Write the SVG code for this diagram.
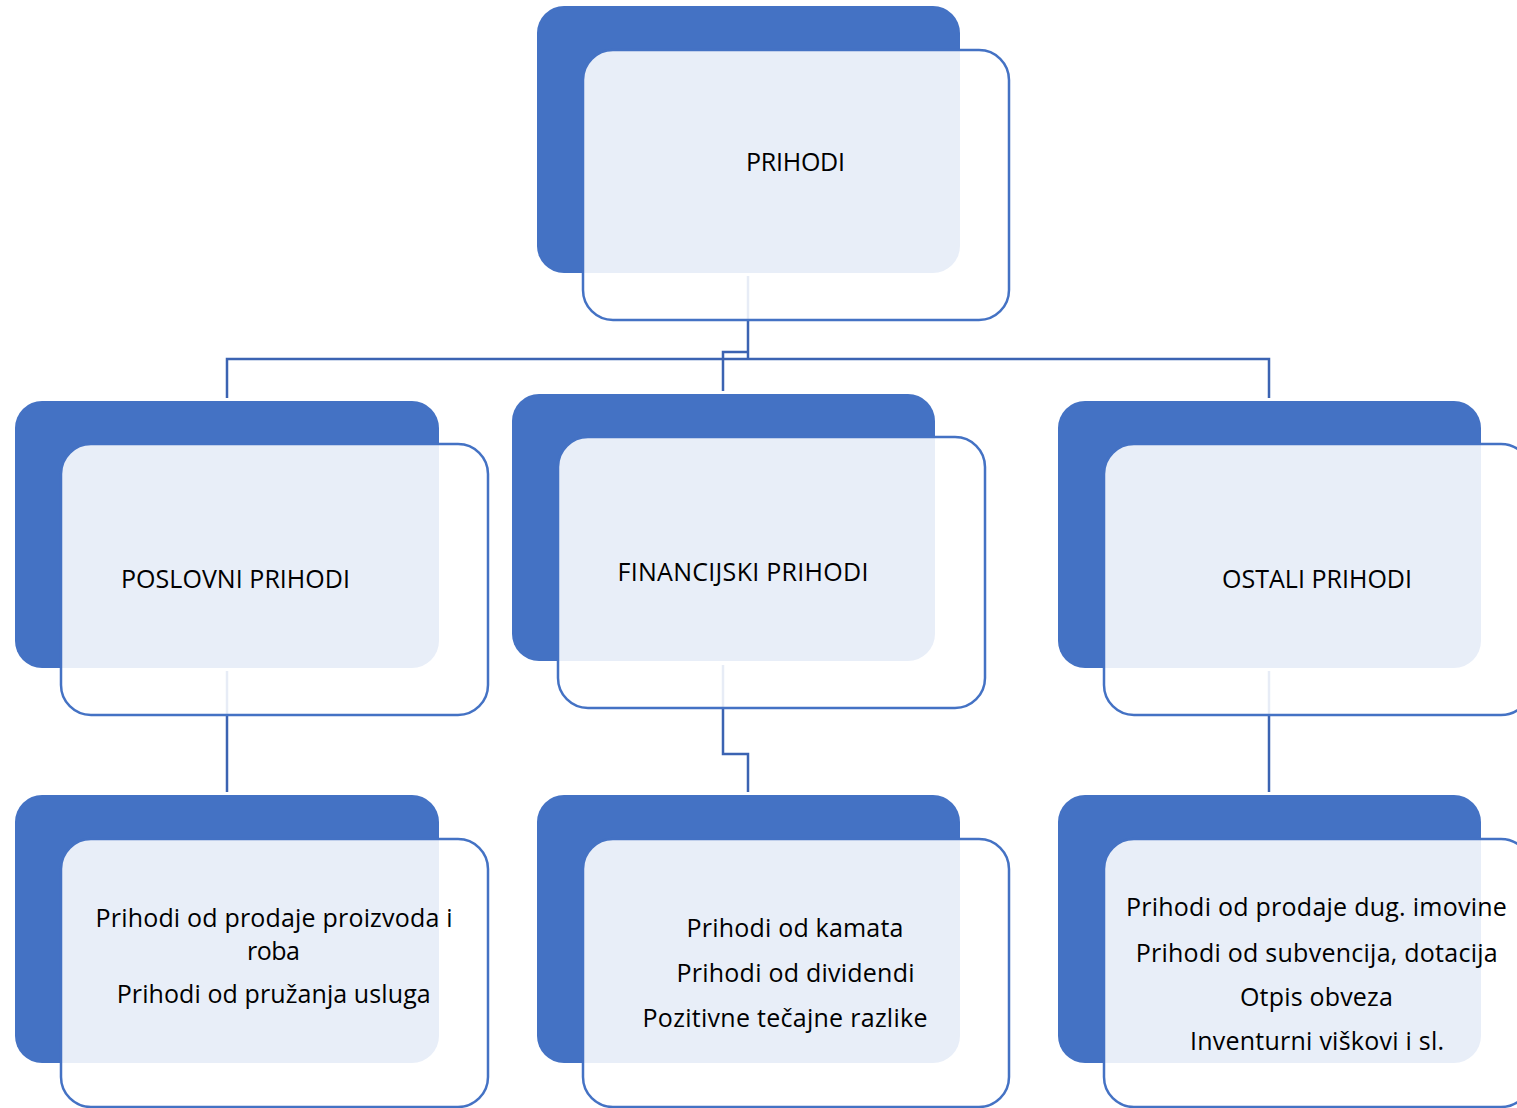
<svg xmlns="http://www.w3.org/2000/svg" width="1517" height="1108" viewBox="0 0 1517 1108">
  <style>
    .back { fill: #4472C4; }
    .front { fill: #FFFFFF; fill-opacity: 0.88; stroke: #4472C4; stroke-width: 2.5; }
    .conn { fill: none; stroke: #3B63B2; stroke-width: 2.5; stroke-linejoin: miter; }
    .lbl { font-family: "Open Sans", "Noto Sans", "DejaVu Sans", sans-serif; font-size: 25px; fill: #000000; text-anchor: middle; }
  </style>
  <rect x="0" y="0" width="1517" height="1108" fill="#FFFFFF"/>
  <g id="connectors">
    <path class="conn" d="M748,276 V359"/>
    <path class="conn" d="M227,398 V359 H1269 V398"/>
    <path class="conn" d="M748,352 H723 V391"/>
    <path class="conn" d="M227,671 V792"/>
    <path class="conn" d="M723,665 V754 H748 V792"/>
    <path class="conn" d="M1269,671 V792"/>
  </g>
  <g id="node-prihodi">
    <rect class="back" x="537" y="6" width="423" height="267" rx="27"/>
    <rect class="front" x="583" y="50" width="426" height="270" rx="30"/>
    <text class="lbl" x="795.5" y="171" textLength="99">PRIHODI</text>
  </g>
  <g id="node-poslovni">
    <rect class="back" x="15" y="401" width="424" height="267" rx="27"/>
    <rect class="front" x="61" y="444" width="427" height="271" rx="30"/>
    <text class="lbl" x="235.5" y="588" textLength="229">POSLOVNI PRIHODI</text>
  </g>
  <g id="node-financijski">
    <rect class="back" x="512" y="394" width="423" height="267" rx="27"/>
    <rect class="front" x="558" y="437" width="427" height="271" rx="30"/>
    <text class="lbl" x="743" y="581" textLength="251">FINANCIJSKI PRIHODI</text>
  </g>
  <g id="node-ostali">
    <rect class="back" x="1058" y="401" width="423" height="267" rx="27"/>
    <rect class="front" x="1104" y="444" width="427" height="271" rx="30"/>
    <text class="lbl" x="1317" y="588" textLength="190">OSTALI PRIHODI</text>
  </g>
  <g id="node-poslovni-detail">
    <rect class="back" x="15" y="795" width="424" height="268" rx="27"/>
    <rect class="front" x="61" y="839" width="427" height="268" rx="30"/>
    <text class="lbl" x="274" y="927" textLength="357">Prihodi od prodaje proizvoda i</text>
    <text class="lbl" x="273.5" y="960" textLength="53">roba</text>
    <text class="lbl" x="273.7" y="1003" textLength="314">Prihodi od pružanja usluga</text>
  </g>
  <g id="node-financijski-detail">
    <rect class="back" x="537" y="795" width="423" height="268" rx="27"/>
    <rect class="front" x="583" y="839" width="426" height="268" rx="30"/>
    <text class="lbl" x="795" y="937" textLength="217">Prihodi od kamata</text>
    <text class="lbl" x="795.5" y="982" textLength="238">Prihodi od dividendi</text>
    <text class="lbl" x="785" y="1027" textLength="285">Pozitivne tečajne razlike</text>
  </g>
  <g id="node-ostali-detail">
    <rect class="back" x="1058" y="795" width="423" height="268" rx="27"/>
    <rect class="front" x="1104" y="839" width="427" height="268" rx="30"/>
    <text class="lbl" x="1316.4" y="916" textLength="381">Prihodi od prodaje dug. imovine</text>
    <text class="lbl" x="1316.7" y="962" textLength="362">Prihodi od subvencija, dotacija</text>
    <text class="lbl" x="1316.4" y="1006" textLength="153">Otpis obveza</text>
    <text class="lbl" x="1317" y="1050" textLength="254">Inventurni viškovi i sl.</text>
  </g>
</svg>
